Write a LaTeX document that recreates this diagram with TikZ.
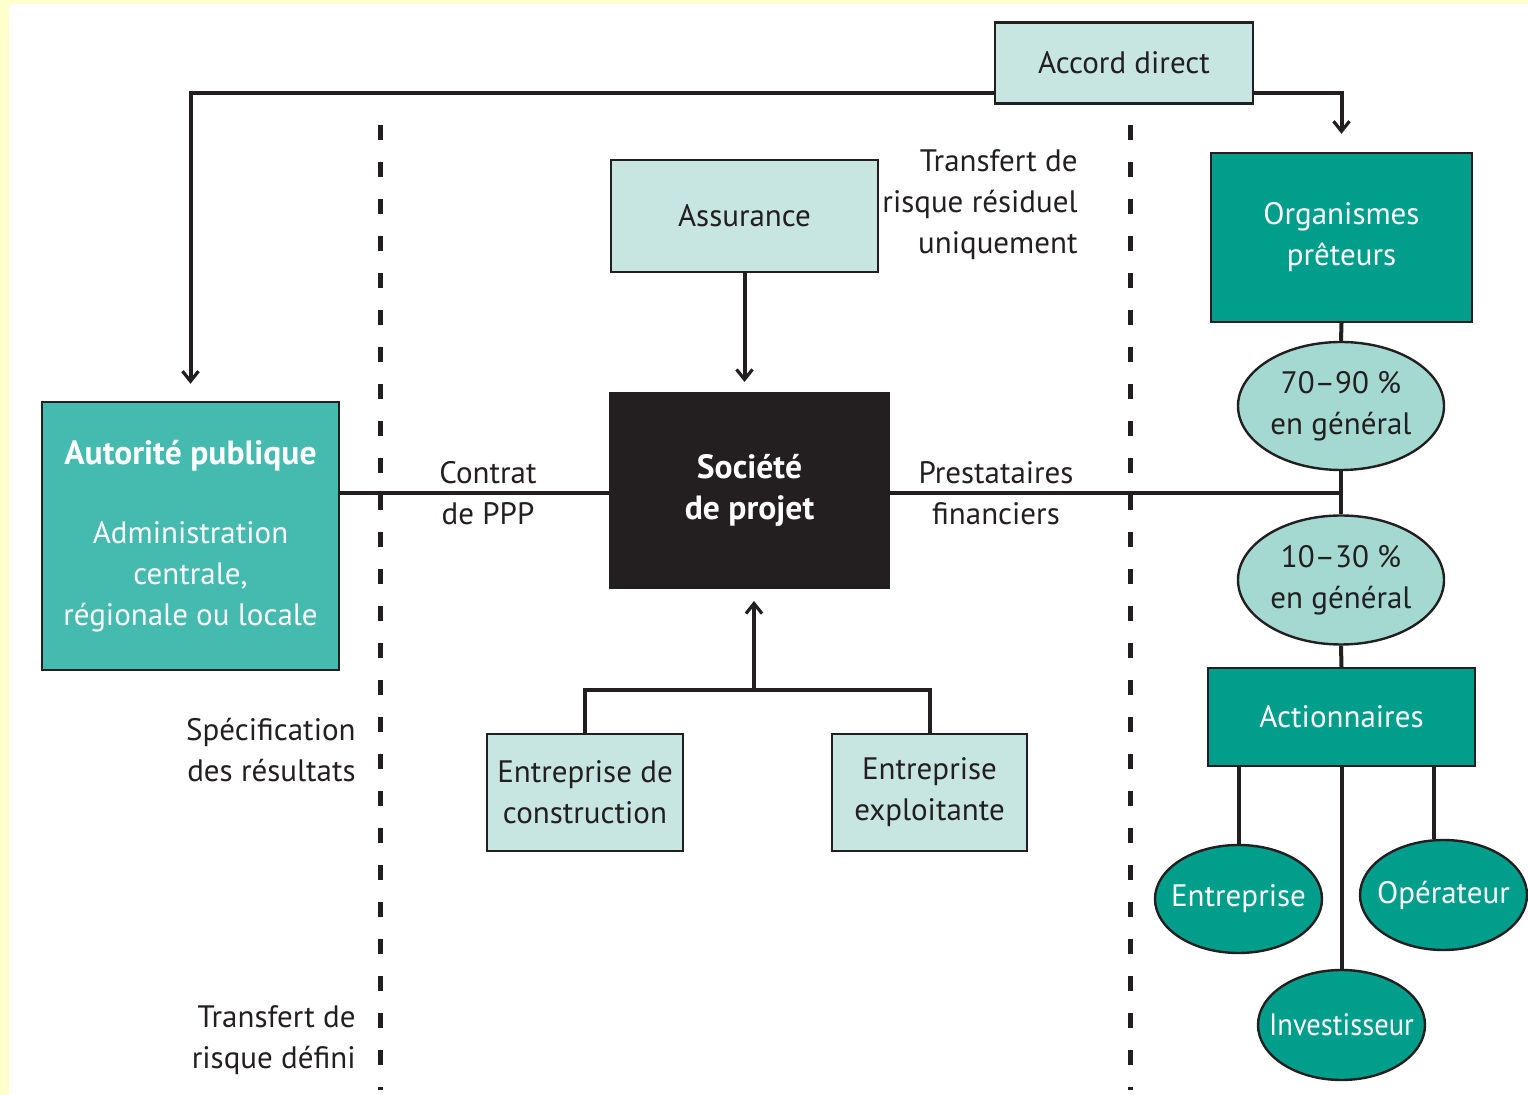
\documentclass[tikz,border=0pt]{standalone}
\usepackage{fontspec}
\setmainfont{PT Sans}
\usetikzlibrary{arrows.meta,shapes.geometric,calc}
\definecolor{lightbox}{HTML}{C8E6E1}
\definecolor{lightell}{HTML}{A4D9D1}
\definecolor{autofill}{HTML}{45BAAE}
\definecolor{darkteal}{HTML}{009E8B}
\definecolor{ink}{HTML}{231F20}
\definecolor{paper}{HTML}{FFFFCC}
\pgfdeclarelayer{bg}
\pgfdeclarelayer{lines}
\pgfsetlayers{bg,lines,main}
\newcommand{\bigbold}[1]{{\fontsize{16.8}{20.5}\selectfont\bfseries #1}}
\tikzset{
  txt/.style={font=\fontsize{15.5}{20.5}\selectfont, text=ink, align=center, inner sep=0pt},
  lbox/.style={txt, draw=ink, line width=1.2pt, fill=lightbox},
  dbox/.style={lbox, fill=darkteal, text=white},
  lell/.style={txt, ellipse, draw=ink, line width=1.2pt, fill=lightell},
  dell/.style={lell, fill=darkteal, text=white},
  conn/.style={draw=ink, line width=2pt},
  arr/.style={conn, -{Straight Barb[length=5pt,width=8pt,line width=1.6pt]}},
  divider/.style={draw=ink, line width=2.5pt, dash pattern=on 7.5pt off 11pt},
  lab/.style={txt}
}
\begin{document}
\begin{tikzpicture}[x=0.5pt,y=-0.5pt]
\begin{pgfonlayer}{bg}
\fill[paper] (0,0) rectangle (1528,1095);
\fill[white] (9,4) rectangle (1528,1095);
\end{pgfonlayer}
\useasboundingbox (0,0) rectangle (1528,1095);

% nodes
\node[lbox, minimum width=129pt, minimum height=40.5pt] (accord) at (1124,63) {Accord direct};
\node[lbox, minimum width=133.5pt, minimum height=56pt] (assur) at (744.5,216) {Assurance};
\node[txt, draw=ink, fill=ink, text=white, line width=1pt, minimum width=139.5pt, minimum height=97.5pt] (soc) at (749.5,490.5) {\bigbold{Société}\\\bigbold{de projet}};
\node[lbox, fill=autofill, text=white, minimum width=148.5pt, minimum height=134pt] (auto) at (190.5,536) {\bigbold{Autorité publique}\\[19pt]Administration\\centrale,\\régionale ou locale};
\node[dbox, minimum width=130.5pt, minimum height=84.5pt] (org) at (1341.5,237.5) {Organismes\\prêteurs};
\node[lell, minimum width=103pt, minimum height=64pt] (e1) at (1341,406) {70–90 \%\\en général};
\node[lell, minimum width=103pt, minimum height=64.5pt] (e2) at (1341,580) {10–30 \%\\en général};
\node[dbox, minimum width=133.5pt, minimum height=49pt] (act) at (1341.5,717) {Actionnaires};
\node[dell, minimum width=83.5pt, minimum height=54pt] (ent) at (1238.5,899) {\makebox[0pt]{Entreprise}};
\node[dell, minimum width=83.5pt, minimum height=55pt] (op) at (1443.5,895) {\makebox[0pt]{Opérateur}};
\node[dell, minimum width=83.5pt, minimum height=55pt] (inv) at (1341.5,1025) {\makebox[0pt]{\scalebox{0.92}[1]{Investisseur}}};
\node[lbox, minimum width=98pt, minimum height=58.5pt] (constr) at (585,792.5) {Entreprise de\\construction};
\node[lbox, minimum width=97.5pt, minimum height=58.5pt] (expl) at (929.5,792.5) {Entreprise\\exploitante};

% labels
\node[lab] (contrat) at (488,493) {Contrat\\de PPP};
\node[lab] (presta) at (996,493) {Prestataires\\financiers};
\node[lab, anchor=east, align=right] (resid) at (1078,205) {Transfert de\\risque résiduel\\uniquement};
\node[lab, anchor=east, align=right] (spec) at (356,750) {Spécification\\des résultats};
\node[lab, anchor=east, align=right] (defini) at (356,1040) {Transfert de\\risque défini};

% helper coordinates
\coordinate (topy) at (0,93);
\coordinate (midy) at (0,493);
\coordinate (bary) at (0,690);
\coordinate (opx) at (1434,0);
\coordinate (d1t) at (380,125);
\coordinate (d1b) at (380,1090);
\coordinate (d2t) at (1130,125);
\coordinate (d2b) at (1130,1090);

\begin{pgfonlayer}{lines}
\draw[divider] (d1t) -- (d1b);
\draw[divider] (d2t) -- (d2b);
\draw[arr, shorten >=8.5pt] (accord.west |- topy) -| (auto.north);
\draw[arr, shorten >=9pt] (accord.east |- topy) -| (org.north);
\draw[arr, shorten >=5pt] (assur.south) -- (assur.south |- soc.north);
\draw[conn] (auto.east |- midy) -- (soc.west |- midy);
\draw[conn] (soc.east |- midy) -- (org.south |- midy);
\draw[conn] (org.south) -- (e1.north);
\draw[conn] (e1.south) -- (e2.north);
\draw[conn] (e2.south) -- (act.north);
\draw[conn] (act.south -| ent.north) -- (ent.north);
\draw[conn] (act.south) -- (inv.north);
\draw[conn] (act.south -| opx) -- (opx |- op.north);
\draw[arr, shorten >=6pt] ([xshift=2.25pt]soc.south |- bary) -- ([xshift=2.25pt]soc.south);
\draw[conn] (constr.north) |- (expl.north |- bary) -- (expl.north);
\end{pgfonlayer}
\end{tikzpicture}
\end{document}
